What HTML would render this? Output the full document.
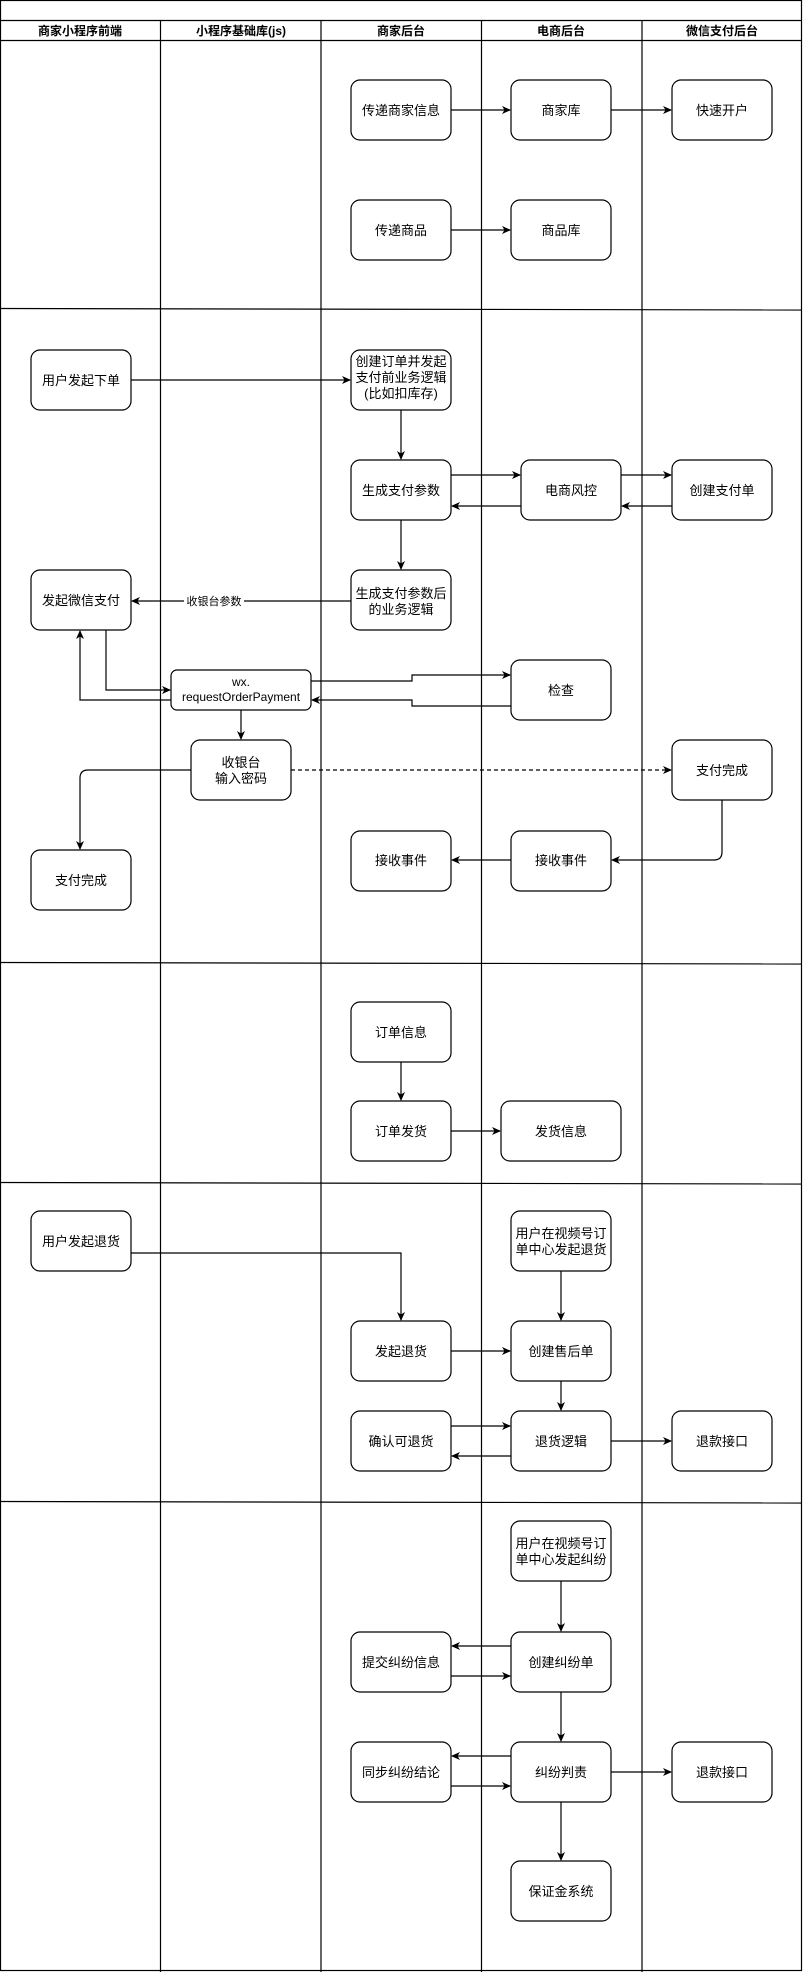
<!DOCTYPE html>
<html><head><meta charset="utf-8"><style>
html,body{margin:0;padding:0;background:#fff;}
svg text{font-family:"Liberation Sans","Noto Sans CJK SC",sans-serif;}
</style></head><body>
<svg width="803" height="1972" viewBox="0 0 803 1972" xmlns="http://www.w3.org/2000/svg">
<defs>
<marker id="a" markerWidth="10" markerHeight="10" refX="8" refY="5" orient="auto" markerUnits="userSpaceOnUse">
<path d="M0,1 L9,5 L0,9 L2.5,5 z" fill="#000"/></marker>
</defs>
<g fill="none" stroke="#000" stroke-width="1.2">
<rect x="0.5" y="0.5" width="801" height="1970"/>
<line x1="0" y1="20.5" x2="802" y2="20.5"/>
<line x1="0" y1="40.5" x2="802" y2="40.5"/>
<line x1="160.5" y1="20" x2="160.5" y2="1972"/>
<line x1="321" y1="20" x2="321" y2="1972"/>
<line x1="481.5" y1="20" x2="481.5" y2="1972"/>
<line x1="642" y1="20" x2="642" y2="1972"/>
<line x1="0" y1="308.5" x2="802" y2="310"/>
<line x1="0" y1="962.5" x2="802" y2="964"/>
<line x1="0" y1="1182.5" x2="802" y2="1184"/>
<line x1="0" y1="1501.5" x2="802" y2="1503"/>
</g>
<g font-size="12" font-weight="bold" text-anchor="middle">
<text x="80" y="35">商家小程序前端</text>
<text x="241" y="35">小程序基础库(js)</text>
<text x="401" y="35">商家后台</text>
<text x="561" y="35">电商后台</text>
<text x="722" y="35">微信支付后台</text>
</g>
<g fill="#fff" stroke="#000" stroke-width="1.2">
<rect x="351" y="80" width="100" height="60" rx="9"/>
<rect x="511" y="80" width="100" height="60" rx="9"/>
<rect x="672" y="80" width="100" height="60" rx="9"/>
<rect x="351" y="200" width="100" height="60" rx="9"/>
<rect x="511" y="200" width="100" height="60" rx="9"/>
<rect x="31" y="350" width="100" height="60" rx="9"/>
<rect x="351" y="350" width="100" height="60" rx="9"/>
<rect x="351" y="460" width="100" height="60" rx="9"/>
<rect x="521" y="460" width="100" height="60" rx="9"/>
<rect x="672" y="460" width="100" height="60" rx="9"/>
<rect x="351" y="570" width="100" height="60" rx="9"/>
<rect x="31" y="570" width="100" height="60" rx="9"/>
<rect x="171" y="670" width="140" height="40" rx="6"/>
<rect x="511" y="660" width="100" height="60" rx="9"/>
<rect x="191" y="740" width="100" height="60" rx="9"/>
<rect x="672" y="740" width="100" height="60" rx="9"/>
<rect x="31" y="850" width="100" height="60" rx="9"/>
<rect x="351" y="831" width="100" height="60" rx="9"/>
<rect x="511" y="831" width="100" height="60" rx="9"/>
<rect x="351" y="1002" width="100" height="60" rx="9"/>
<rect x="351" y="1101" width="100" height="60" rx="9"/>
<rect x="501" y="1101" width="120" height="60" rx="9"/>
<rect x="31" y="1211" width="100" height="60" rx="9"/>
<rect x="511" y="1211" width="100" height="60" rx="9"/>
<rect x="351" y="1321" width="100" height="60" rx="9"/>
<rect x="511" y="1321" width="100" height="60" rx="9"/>
<rect x="351" y="1411" width="100" height="60" rx="9"/>
<rect x="511" y="1411" width="100" height="60" rx="9"/>
<rect x="672" y="1411" width="100" height="60" rx="9"/>
<rect x="511" y="1521" width="100" height="60" rx="9"/>
<rect x="351" y="1632" width="100" height="60" rx="9"/>
<rect x="511" y="1632" width="100" height="60" rx="9"/>
<rect x="351" y="1742" width="100" height="60" rx="9"/>
<rect x="511" y="1742" width="100" height="60" rx="9"/>
<rect x="672" y="1742" width="100" height="60" rx="9"/>
<rect x="511" y="1861" width="100" height="60" rx="9"/>
</g>
<g fill="none" stroke="#000" stroke-width="1.2" marker-end="url(#a)">
<line x1="451" y1="110" x2="510" y2="110"/>
<line x1="611" y1="110" x2="671" y2="110"/>
<line x1="451" y1="230" x2="510" y2="230"/>
<line x1="131" y1="380" x2="350" y2="380"/>
<line x1="401" y1="410" x2="401" y2="459"/>
<line x1="451" y1="475" x2="520" y2="475"/>
<line x1="521" y1="506" x2="452" y2="506"/>
<line x1="621" y1="475" x2="671" y2="475"/>
<line x1="672" y1="506" x2="622" y2="506"/>
<line x1="401" y1="520" x2="401" y2="569"/>
<line x1="351" y1="601" x2="132" y2="601"/>
<polyline points="106,630 106,690 170,690"/>
<polyline points="171,700 80,700 80,631"/>
<polyline points="311,681 412,681 412,675 510,675"/>
<polyline points="511,706 412,706 412,700 312,700"/>
<line x1="241" y1="710" x2="241" y2="739"/>
<line x1="291" y1="770" x2="671" y2="770" stroke-dasharray="4,3"/>
<path d="M191,770 H88 Q80,770 80,778 V849"/>
<path d="M722,800 V852 Q722,860 714,860 H612"/>
<line x1="511" y1="860" x2="452" y2="860"/>
<line x1="401" y1="1062" x2="401" y2="1100"/>
<line x1="451" y1="1131" x2="500" y2="1131"/>
<polyline points="131,1253 401,1253 401,1320"/>
<line x1="561" y1="1271" x2="561" y2="1320"/>
<line x1="451" y1="1351" x2="510" y2="1351"/>
<line x1="561" y1="1381" x2="561" y2="1410"/>
<line x1="451" y1="1426" x2="510" y2="1426"/>
<line x1="511" y1="1456" x2="452" y2="1456"/>
<line x1="611" y1="1441" x2="671" y2="1441"/>
<line x1="561" y1="1581" x2="561" y2="1631"/>
<line x1="511" y1="1646" x2="452" y2="1646"/>
<line x1="451" y1="1676" x2="510" y2="1676"/>
<line x1="561" y1="1692" x2="561" y2="1741"/>
<line x1="511" y1="1756" x2="452" y2="1756"/>
<line x1="451" y1="1786" x2="510" y2="1786"/>
<line x1="611" y1="1772" x2="671" y2="1772"/>
<line x1="561" y1="1802" x2="561" y2="1860"/>
</g>
<rect x="184" y="593" width="60" height="15" fill="#fff"/>
<g font-size="13" text-anchor="middle">
<text x="401" y="115">传递商家信息</text>
<text x="561" y="115">商家库</text>
<text x="722" y="115">快速开户</text>
<text x="401" y="235">传递商品</text>
<text x="561" y="235">商品库</text>
<text x="81" y="385">用户发起下单</text>
<text x="401" y="366">创建订单并发起</text>
<text x="401" y="382">支付前业务逻辑</text>
<text x="401" y="398">(比如扣库存)</text>
<text x="401" y="495">生成支付参数</text>
<text x="571" y="495">电商风控</text>
<text x="722" y="495">创建支付单</text>
<text x="401" y="598">生成支付参数后</text>
<text x="401" y="614">的业务逻辑</text>
<text x="81" y="605">发起微信支付</text>
<text x="214" y="605" font-size="11">收银台参数</text>
<text x="241" y="686" font-size="12">wx.</text>
<text x="241" y="701" font-size="12">requestOrderPayment</text>
<text x="561" y="695">检查</text>
<text x="241" y="767">收银台</text>
<text x="241" y="783">输入密码</text>
<text x="722" y="775">支付完成</text>
<text x="81" y="885">支付完成</text>
<text x="401" y="865">接收事件</text>
<text x="561" y="865">接收事件</text>
<text x="401" y="1037">订单信息</text>
<text x="401" y="1136">订单发货</text>
<text x="561" y="1136">发货信息</text>
<text x="81" y="1246">用户发起退货</text>
<text x="561" y="1238">用户在视频号订</text>
<text x="561" y="1254">单中心发起退货</text>
<text x="401" y="1356">发起退货</text>
<text x="561" y="1356">创建售后单</text>
<text x="401" y="1446">确认可退货</text>
<text x="561" y="1446">退货逻辑</text>
<text x="722" y="1446">退款接口</text>
<text x="561" y="1548">用户在视频号订</text>
<text x="561" y="1564">单中心发起纠纷</text>
<text x="401" y="1667">提交纠纷信息</text>
<text x="561" y="1667">创建纠纷单</text>
<text x="401" y="1777">同步纠纷结论</text>
<text x="561" y="1777">纠纷判责</text>
<text x="722" y="1777">退款接口</text>
<text x="561" y="1896">保证金系统</text>
</g>
</svg>
</body></html>
